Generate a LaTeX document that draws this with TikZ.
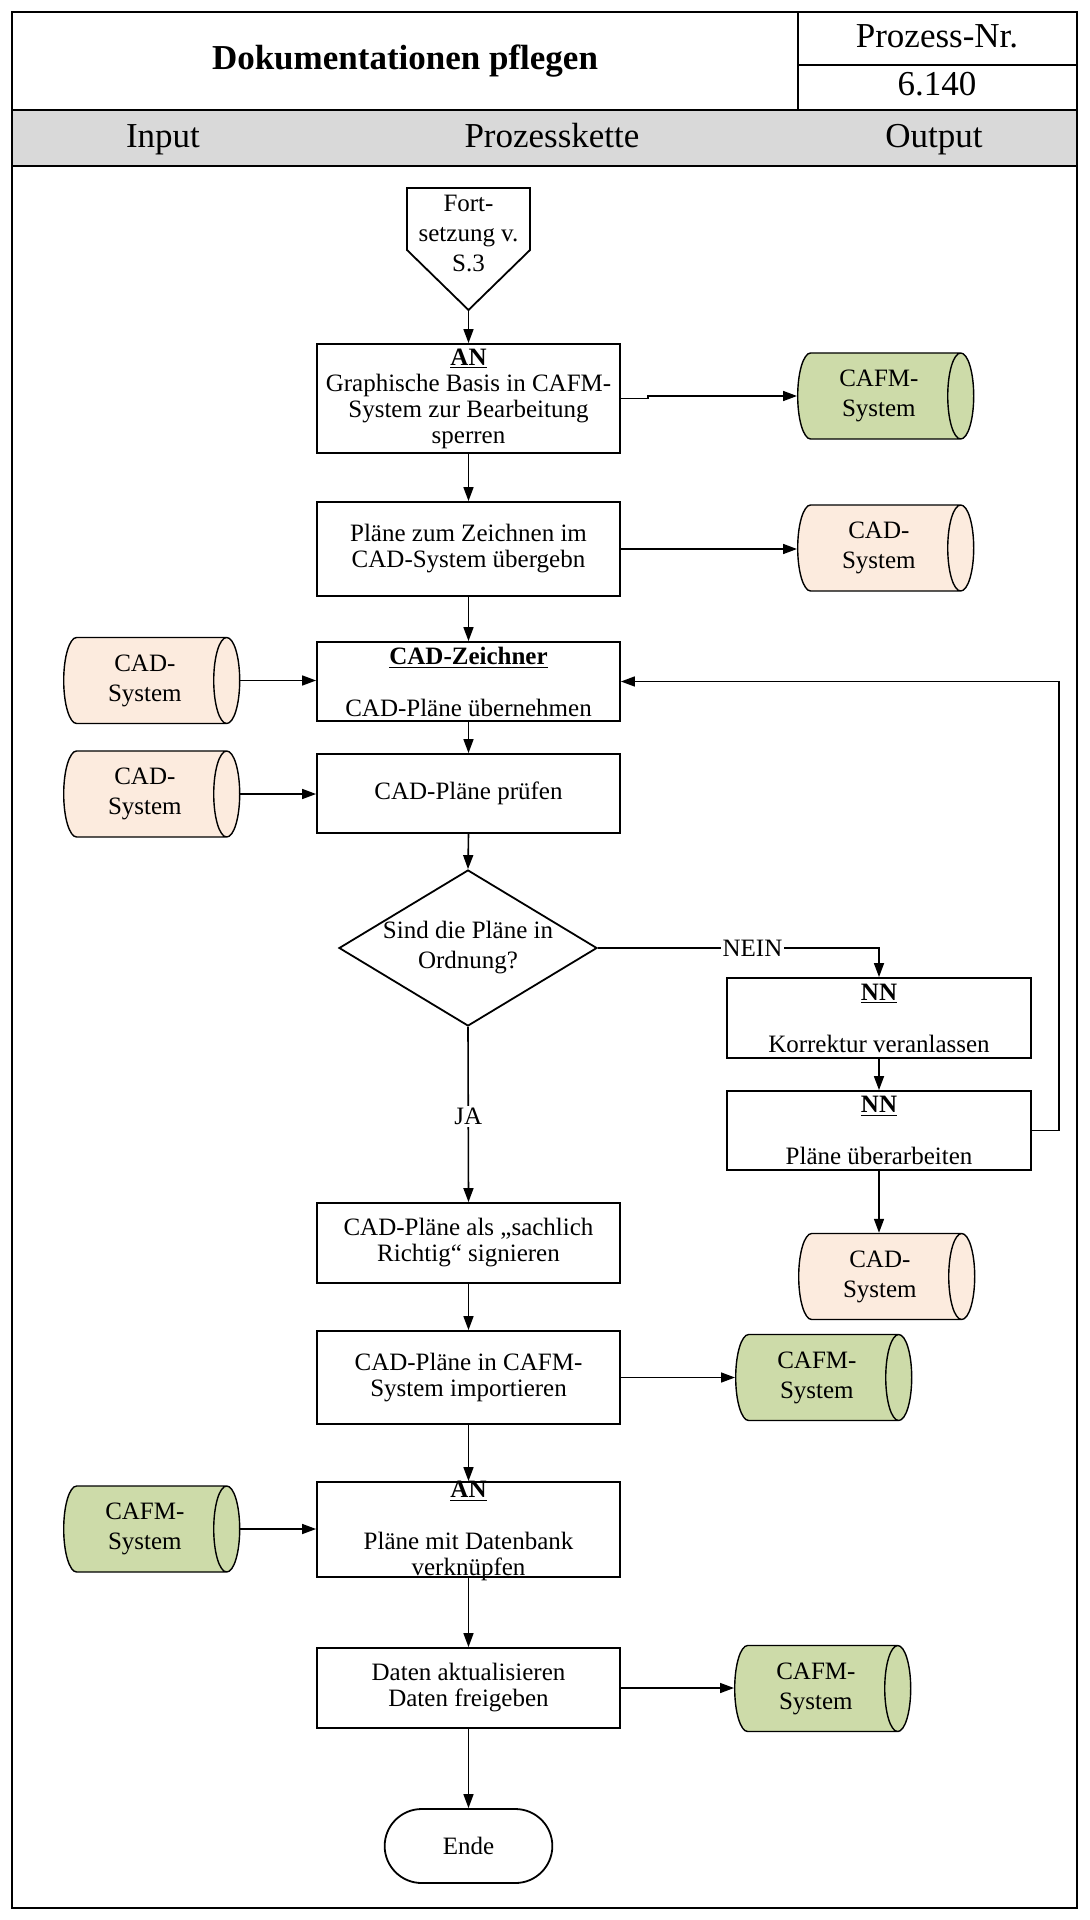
\documentclass[tikz,border=0pt]{standalone}
\usepackage{fontspec}
\setmainfont{Liberation Serif}
\usetikzlibrary{arrows.meta,shapes.geometric,shapes.misc}

\definecolor{cafmgreen}{RGB}{205,219,169}
\definecolor{cadpeach}{RGB}{252,235,222}
\definecolor{bandgray}{RGB}{217,217,217}

\begin{document}
\begin{tikzpicture}[x=0.5pt,y=-0.5pt,->,>={Triangle[length=7pt,width=5pt]},line width=0.8pt,
    box/.style={-,rectangle,draw,line width=0.9pt,minimum width=151.5pt,inner sep=0pt,
                align=center,font=\fontsize{12.5}{13}\selectfont},
    store/.style={-,cylinder,draw,line width=0.7pt,aspect=0.5,minimum width=43pt,minimum height=88pt,
                  inner sep=0pt,align=center,anchor=west,font=\fontsize{12.5}{15}\selectfont},
    cafm/.style={store,fill=cafmgreen},
    cad/.style={store,fill=cadpeach},
    head/.style={font=\fontsize{17.5}{20}\selectfont,text height=12pt,text depth=4pt},
    lbl/.style={fill=white,inner sep=1pt,font=\fontsize{12.5}{13}\selectfont}]

  \useasboundingbox (0,0) rectangle (1089,1920);

  % header
  \fill[bandgray] (12,110) rectangle (1077,166);
  \draw[-,line width=1.2pt] (12,12) rectangle (1077,1908);
  \draw[-,line width=1.2pt] (12,110) -- (1077,110) (12,166) -- (1077,166);
  \draw[-] (798,12) -- (798,110) (798,65) -- (1077,65);
  \node[head,font=\fontsize{17.5}{20}\selectfont\bfseries] (title) at (405,62) {Dokumentationen pflegen};
  \node[head] (nrlabel) at (937,40) {Prozess-Nr.};
  \node[head] (nr) at (937,88) {6.140};
  \node[head] (inp) at (163,140) {Input};
  \node[head] (chain) at (552,140) {Prozesskette};
  \node[head] (outp) at (934,140) {Output};

  % Fortsetzung
  \draw[-,line width=0.9pt] (407,188) -- (530,188) -- (530,250) -- (468.5,310) -- (407,250) -- cycle;
  \coordinate (forttip) at (468.5,310);
  \node[align=center,font=\fontsize{12.5}{15}\selectfont] (fort) at (468.5,233) {Fort-\\setzung v.\\S.3};

  % process chain
  \node[box,minimum height=54.5pt] (b1) at (468.5,398.5)
    {\underline{\textbf{AN}}\\Graphische Basis in CAFM-\\System zur Bearbeitung\\sperren};
  \node[box,minimum height=47pt] (b2) at (468.5,549) {Pläne zum Zeichnen im\\CAD-System übergebn};
  \node[box,minimum height=39.5pt] (b3) at (468.5,681.5)
    {\underline{\textbf{CAD-Zeichner}}\\[13pt]CAD-Pläne übernehmen};
  \node[box,minimum height=39.5pt] (b4) at (468.5,793.5) {CAD-Pläne prüfen};
  \node[diamond,draw,line width=0.9pt,aspect=1.65,inner sep=0pt,minimum width=129pt,minimum height=78pt,
        align=center,font=\fontsize{12.5}{15}\selectfont] (dec) at (468,948) {Sind die Pläne in\\Ordnung?};
  \node[box,minimum height=40pt] (b7) at (468.5,1243) {CAD-Pläne als „sachlich\\Richtig“ signieren};
  \node[box,minimum height=46.5pt] (b8) at (468.5,1377.5) {CAD-Pläne in CAFM-\\System importieren};
  \node[box,minimum height=47.5pt] (b9) at (468.5,1529.5)
    {\raisebox{-4pt}[0pt][0pt]{\begin{tabular}{@{}c@{}}\underline{\textbf{AN}}\\ \\Pläne mit Datenbank\\verknüpfen\end{tabular}}};
  \node[box,minimum height=40pt] (b10) at (468.5,1688) {Daten aktualisieren\\Daten freigeben};
  \node[rounded rectangle,draw,line width=0.9pt,minimum width=90.5pt,minimum height=37pt,
        font=\fontsize{12.5}{13}\selectfont] (ende) at (468.5,1846) {Ende};

  % correction loop
  \node[box,minimum width=152pt,minimum height=40pt] (b5) at (879,1018)
    {\underline{\textbf{NN}}\\[13pt]Korrektur veranlassen};
  \node[box,minimum width=152pt,minimum height=39.5pt] (b6) at (879,1130.5)
    {\underline{\textbf{NN}}\\[13pt]Pläne überarbeiten};

  % systems
  \node[cafm] (cafm1) at (797,396) {CAFM-\\System};
  \node[cad] (cad1) at (797,548) {CAD-\\System};
  \node[cad] (cadin1) at (63,680.5) {CAD-\\System};
  \node[cad] (cadin2) at (63,794) {CAD-\\System};
  \node[cad] (cad3) at (798,1276.5) {CAD-\\System};
  \node[cafm] (cafm2) at (735,1377.5) {CAFM-\\System};
  \node[cafm] (cafmin) at (63,1529) {CAFM-\\System};
  \node[cafm] (cafm3) at (734,1688.5) {CAFM-\\System};

  % connectors
  \draw (forttip) -- (b1.north);
  \draw (b1.east) -- ++(27,0) |- (cafm1.west);
  \draw (b1.south) -- (b2.north);
  \draw (b2.east) -- (b2.east -| cad1.west);
  \draw (b2.south) -- (b3.north);
  \draw (cadin1.east) -- (cadin1.east -| b3.west);
  \draw (b3.south) -- (b4.north);
  \draw (cadin2.east) -- (cadin2.east -| b4.west);
  \draw (b4.south) -- (dec.north);
  \draw (dec.east) -- node[lbl,pos=0.55] {NEIN} (dec.east -| b5.north) -- (b5.north);
  \draw (dec.south) -- node[lbl,pos=0.51] {JA} (b7.north);
  \draw (b5.south) -- (b6.north);
  \draw (b6.east) -- ++(27,0) |- (b3.east);
  \draw (b6.south) -- (b6.south |- cad3.north);
  \draw (b7.south) -- (b8.north);
  \draw (b8.east) -- (b8.east -| cafm2.west);
  \draw (b8.south) -- (b9.north);
  \draw (cafmin.east) -- (cafmin.east -| b9.west);
  \draw (b9.south) -- (b10.north);
  \draw (b10.east) -- (b10.east -| cafm3.west);
  \draw (b10.south) -- (ende.north);
\end{tikzpicture}
\end{document}
